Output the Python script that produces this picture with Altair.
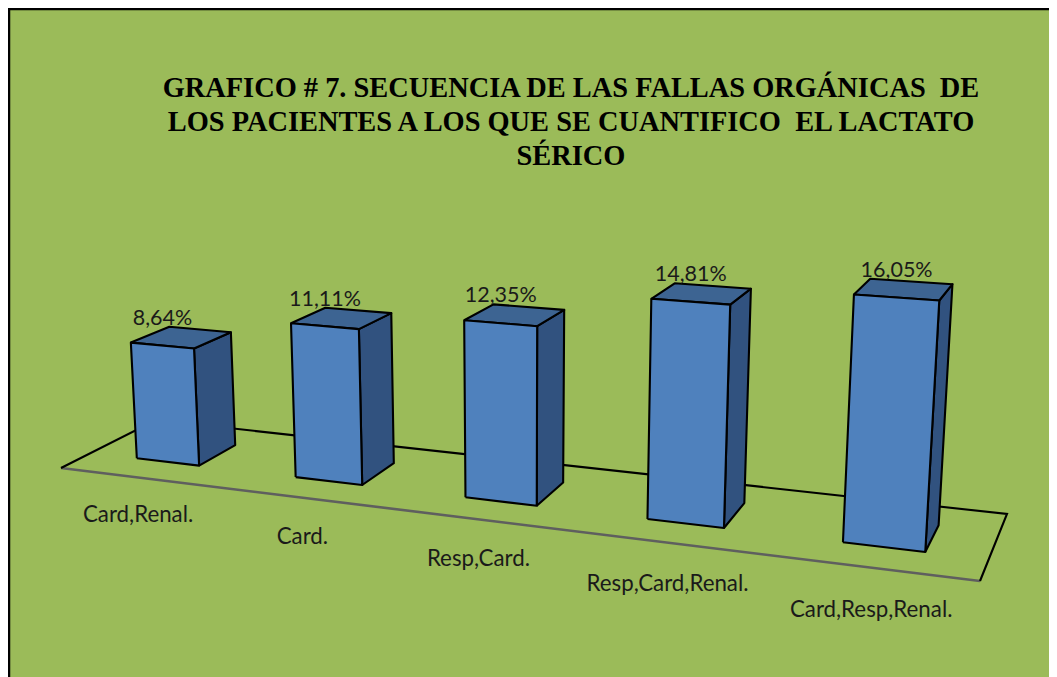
import altair as alt
import numpy as np
import pandas as pd

TITLE_LINES = ["GRAFICO # 7. SECUENCIA DE LAS FALLAS ORGÁNICAS \u00a0DE",
               "LOS PACIENTES A LOS QUE SE CUANTIFICO \u00a0EL LACTATO",
               "SÉRICO"]
CATEGORIES = ["Card,Renal.", "Card.", "Resp,Card.", "Resp,Card,Renal.", "Card,Resp,Renal."]
VALUES = [8.64, 11.11, 12.35, 14.81, 16.05]
VALUE_LABELS = ["8,64%", "11,11%", "12,35%", "14,81%", "16,05%"]

# Geometry of the 3-D scene: the floor's four corners in the chart's scale units
FLOOR = [(61, 468), (980, 581), (1007, 514), (156, 420)]
VANISH = (519, 7850)
BAR_W, D0, D1 = 0.40, 0.30, 0.71

src = [(0, 0), (1, 0), (1, 1), (0, 1)]
A, b = [], []
for (u, v), (x, y) in zip(src, FLOOR):
    A.append([u, v, 1, 0, 0, 0, -u * x, -v * x]); b.append(x)
    A.append([0, 0, 0, u, v, 1, -u * y, -v * y]); b.append(y)
h = np.linalg.solve(np.array(A, float), np.array(b, float))


def floor(u, d):
    u = u / len(CATEGORIES)
    w = h[6] * u + h[7] * d + 1
    return (h[0] * u + h[1] * d + h[2]) / w, (h[3] * u + h[4] * d + h[5]) / w


def rise(p, value):
    s = 13.4 + 0.0244 * (p[1] - 459)
    f = value * s / (VANISH[1] - p[1])
    return p[0] + (p[0] - VANISH[0]) * f, p[1] + (p[1] - VANISH[1]) * f


rows, vlabels, clabels = [], [], []
for i, (cat, val, lab) in enumerate(zip(CATEGORIES, VALUES, VALUE_LABELS)):
    c = i + 0.5
    fl, fr = floor(c - BAR_W / 2, D0), floor(c + BAR_W / 2, D0)
    bl, br = floor(c - BAR_W / 2, D1), floor(c + BAR_W / 2, D1)
    tfl, tfr, tbl, tbr = rise(fl, val), rise(fr, val), rise(bl, val), rise(br, val)
    faces = {"side": [fr, br, tbr, tfr, fr],
             "top": [tfl, tfr, tbr, tbl, tfl],
             "front": [fl, fr, tfr, tfl, fl]}
    for face, pts in faces.items():
        for k, (x, y) in enumerate(pts):
            rows.append(dict(bar=cat, face=face, k=k, x=x, y=y))
    vlabels.append(dict(x=(tfl[0] + tfr[0]) / 2, y=tbl[1] - 2, t=lab))
    p = floor(c, 0)
    clabels.append(dict(x=p[0] - 1, y=p[1] + 45 + 0.05 * (p[1] - 480), t=cat))

bars = pd.DataFrame(rows)
X = alt.X("x:Q", scale=alt.Scale(domain=[8, 1049], nice=False, zero=False), axis=None)
Y = alt.Y("y:Q", scale=alt.Scale(domain=[677, 8], nice=False, zero=False), axis=None)

c = FLOOR
back = pd.DataFrame([dict(k=k, x=p[0], y=p[1]) for k, p in enumerate([c[0], c[3], c[2], c[1]])])
front = pd.DataFrame([dict(k=k, x=p[0], y=p[1]) for k, p in enumerate([c[0], c[1]])])
frame = pd.DataFrame([dict(k=0, x=9, y=677), dict(k=1, x=9, y=9), dict(k=2, x=1049, y=9)])

layers = [
    alt.Chart(frame).mark_line(color="black", strokeWidth=2.5, clip=True).encode(X, Y, order="k:Q"),
    alt.Chart(front).mark_line(color="#5f5f5f", strokeWidth=2.6).encode(X, Y, order="k:Q"),
    alt.Chart(back).mark_line(color="black", strokeWidth=2.1).encode(X, Y, order="k:Q"),
]
for face, col in [("side", "#31527F"), ("top", "#3D6492"), ("front", "#4F81BD")]:
    layers.append(
        alt.Chart(bars[bars.face == face]).mark_line(
            fill=col, stroke="black", strokeWidth=2.1, strokeJoin="round"
        ).encode(X, Y, order="k:Q", detail="bar:N")
    )

layers.append(alt.Chart(pd.DataFrame(vlabels)).mark_text(
    font="Lato", fontSize=21.5, color="#1a1a1a", baseline="alphabetic", align="center"
).encode(X, Y, text="t:N"))
layers.append(alt.Chart(pd.DataFrame(clabels)).mark_text(
    font="Lato", fontSize=22.3, color="#1a1a1a", baseline="alphabetic", align="center"
).encode(X, Y, text="t:N"))

title_df = pd.DataFrame([dict(x=571, y=97 + 34 * n, t=t) for n, t in enumerate(TITLE_LINES)])
layers.append(alt.Chart(title_df).mark_text(
    font="Liberation Serif", fontSize=28.4, fontWeight="bold", color="black",
    baseline="alphabetic", align="center"
).encode(X, Y, text="t:N"))

chart = alt.layer(*layers).properties(
    width=1041, height=669, background="#9BBB59", padding=0,
    autosize=alt.AutoSizeParams(type="none"),
).configure_view(stroke=None)

chart.save("out.html", embed_options={"renderer": "svg", "actions": False})
